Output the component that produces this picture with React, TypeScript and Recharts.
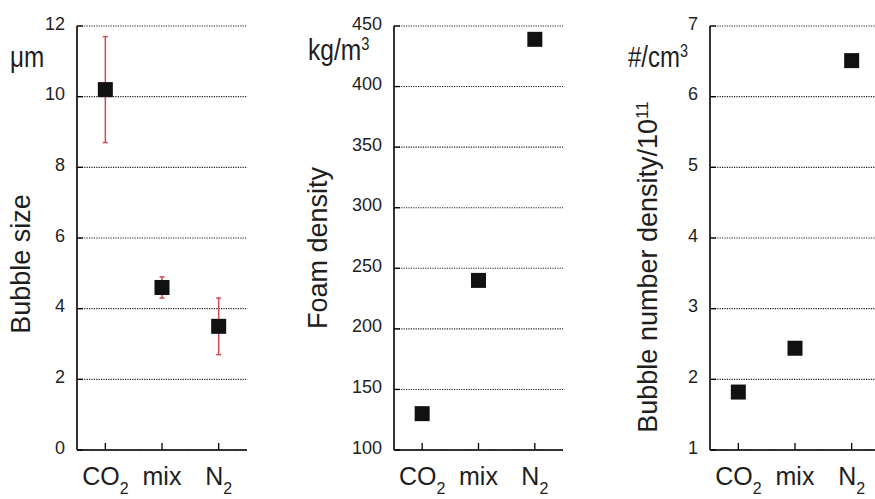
import { ScatterChart, Scatter, XAxis, YAxis, CartesianGrid, ErrorBar } from "recharts";

const FONT = '"Liberation Sans", Arial, Helvetica, sans-serif';
const INK = "#1e1e1e";
const ERR_RED = "#d04a55";

// categories (trailing digit is drawn as a subscript)
const GASES = ["CO2", "mix", "N2"];

// bubble size, µm (mean with lower / upper bar ends)
const BUBBLE_SIZE = [10.2, 4.6, 3.5];
const BUBBLE_SIZE_LOW = [8.7, 4.3, 2.7];
const BUBBLE_SIZE_HIGH = [11.7, 4.9, 4.3];

// foam density, kg/m3
const FOAM_DENSITY = [130, 240, 439];

// bubble number density, 10^11 #/cm3
const NUMBER_DENSITY = [1.82, 2.44, 6.51];

const SIZE_TICKS = [0, 2, 4, 6, 8, 10, 12];
const DENSITY_TICKS = [100, 150, 200, 250, 300, 350, 400, 450];
const NUMBER_TICKS = [1, 2, 3, 4, 5, 6, 7];

type Row = { gas: string; value: number; err?: [number, number] };

const sizeRows: Row[] = GASES.map((gas, i) => ({
  gas,
  value: BUBBLE_SIZE[i],
  err: [BUBBLE_SIZE[i] - BUBBLE_SIZE_LOW[i], BUBBLE_SIZE_HIGH[i] - BUBBLE_SIZE[i]],
}));
const densityRows: Row[] = GASES.map((gas, i) => ({ gas, value: FOAM_DENSITY[i] }));
const numberRows: Row[] = GASES.map((gas, i) => ({ gas, value: NUMBER_DENSITY[i] }));

function splitSub(label: string): [string, string] {
  const m = label.match(/^(\D+)(\d+)$/);
  return m ? [m[1], m[2]] : [label, ""];
}

// x tick: inward tick mark + label with subscript (y is the axis line)
const XTick = ({ x, y, payload }: any) => {
  const [base, sub] = splitSub(String(payload.value));
  return (
    <g>
      <line x1={x} y1={y} x2={x} y2={y - 7} stroke="#000" strokeWidth={1.3} />
      <text x={x} y={y + 35} textAnchor="middle" fontSize={25} fill={INK} fontFamily={FONT}>
        {base}
        {sub && (
          <tspan dy={9} fontSize={16}>
            {sub}
          </tspan>
        )}
      </text>
    </g>
  );
};

// y tick: label 12px left of the axis, short inward tick
const YTick = ({ x, y, payload }: any) => (
  <g>
    <line x1={x + 12} y1={y} x2={x + 18} y2={y} stroke="#000" strokeWidth={1.3} />
    <text x={x} y={y} dy={3.5} textAnchor="end" fontSize={18} fill={INK} fontFamily={FONT}>
      {payload.value}
    </text>
  </g>
);

const Square = (props: any) => {
  const { cx, cy } = props;
  if (cx == null || cy == null) return <g />;
  return <rect x={cx - 7.5} y={cy - 7.5} width={15} height={15} fill="#111" />;
};

interface PanelProps {
  left: number;
  width: number;
  axisWidth: number;
  rightMargin: number;
  rows: Row[];
  domain: [number, number];
  ticks: number[];
  withErrors?: boolean;
}

function Panel({ left, width, axisWidth, rightMargin, rows, domain, ticks, withErrors }: PanelProps) {
  return (
    <div style={{ position: "absolute", left, top: 0 }}>
      <ScatterChart width={width} height={499} margin={{ top: 26, right: rightMargin, bottom: 0, left: 0 }}>
        <CartesianGrid vertical={false} stroke="#222" strokeWidth={1.1} strokeDasharray="1.2 1.2" />
        <XAxis
          dataKey="gas"
          type="category"
          scale="band"
          allowDuplicatedCategory={false}
          height={49}
          axisLine={{ stroke: "#000", strokeWidth: 1.6 }}
          tickLine={false}
          tickSize={0}
          tickMargin={0}
          tick={<XTick />}
          interval={0}
        />
        <YAxis
          dataKey="value"
          type="number"
          domain={domain}
          ticks={ticks}
          width={axisWidth}
          axisLine={{ stroke: "#000", strokeWidth: 1.6 }}
          tickLine={false}
          tickSize={0}
          tickMargin={12}
          tick={<YTick />}
          interval={0}
          allowDataOverflow
        />
        <YAxis
          yAxisId="r"
          orientation="right"
          type="number"
          domain={[0, 1]}
          width={0}
          tick={false}
          tickLine={false}
          axisLine={{ stroke: "#444", strokeWidth: 1 }}
        />
        <Scatter data={rows} dataKey="value" shape={<Square />} isAnimationActive={false}>
          {withErrors && (
            <ErrorBar dataKey="err" direction="y" width={2.5} stroke={ERR_RED} strokeWidth={1.5} />
          )}
        </Scatter>
      </ScatterChart>
    </div>
  );
}

export default function App() {
  return (
    <div
      style={{
        position: "absolute",
        left: 0,
        top: 0,
        width: 875,
        height: 499,
        overflow: "hidden",
        background: "#fff",
        fontFamily: FONT,
      }}
    >
      <Panel left={0} width={260} axisWidth={77} rightMargin={13} rows={sizeRows} domain={[0, 12]} ticks={SIZE_TICKS} withErrors />
      <Panel left={300} width={275} axisWidth={94} rightMargin={12} rows={densityRows} domain={[100, 450]} ticks={DENSITY_TICKS} />
      <Panel left={620} width={270} axisWidth={90} rightMargin={10} rows={numberRows} domain={[1, 7]} ticks={NUMBER_TICKS} />

      <svg width={875} height={499} style={{ position: "absolute", left: 0, top: 0, pointerEvents: "none" }}>
        <g fill={INK} fontFamily={FONT}>
          {/* axis titles */}
          <text transform="translate(30,264) rotate(-90)" textAnchor="middle" fontSize={27}>
            Bubble size
          </text>
          <text transform="translate(327,248) rotate(-90)" textAnchor="middle" fontSize={27}>
            Foam density
          </text>
          <text transform="translate(657,267) rotate(-90)" textAnchor="middle" fontSize={27}>
            Bubble number density/10
            <tspan dy={-9} fontSize={17}>
              11
            </tspan>
          </text>

          {/* units */}
          <text transform="translate(10,67) scale(0.81,1)" fontSize={30}>
            μm
          </text>
          <text transform="translate(308,60) scale(0.82,1)" fontSize={30}>
            kg/m
            <tspan dy={-10} fontSize={18}>
              3
            </tspan>
          </text>
          <text transform="translate(628,67) scale(0.8,1)" fontSize={30}>
            #/cm
            <tspan dy={-10} fontSize={18}>
              3
            </tspan>
          </text>
        </g>
      </svg>
    </div>
  );
}
